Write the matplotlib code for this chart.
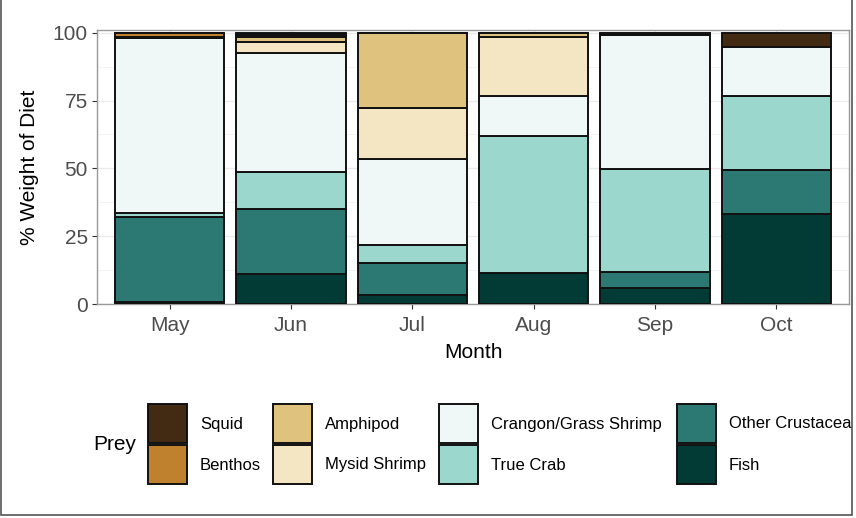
import matplotlib
matplotlib.use("Agg")
import matplotlib.pyplot as plt
from matplotlib.patches import Rectangle
import numpy as np

plt.rcParams["font.family"] = ["Liberation Sans", "DejaVu Sans"]

months = ["May", "Jun", "Jul", "Aug", "Sep", "Oct"]

# stacking order, bottom -> top
prey = ["Fish", "Other Crustacea", "True Crab", "Crangon/Grass Shrimp",
        "Mysid Shrimp", "Amphipod", "Benthos", "Squid"]
colors = {"Squid": "#432a12", "Benthos": "#c0812e", "Amphipod": "#dfc27d",
          "Mysid Shrimp": "#f5e6c3", "Crangon/Grass Shrimp": "#f0f8f7",
          "True Crab": "#9bd7cc", "Other Crustacea": "#2c7873", "Fish": "#023a36"}

fish        = [0.7, 11.0, 3.3, 11.6, 5.8, 33.2]
other_crust = [31.5, 24.0, 11.7, 0.0, 6.1, 16.2]
true_crab   = [1.5, 13.6, 6.8, 50.4, 37.8, 27.4]
crangon     = [64.5, 44.0, 31.6, 14.5, 49.6, 17.8]
mysid       = [0.0, 4.0, 18.8, 21.8, 0.0, 0.0]
amphipod    = [0.3, 2.0, 27.8, 1.7, 0.0, 0.0]
benthos     = [1.5, 0.4, 0.0, 0.0, 0.0, 0.0]
squid       = [0.0, 1.0, 0.0, 0.0, 0.7, 5.4]

values = {"Fish": fish, "Other Crustacea": other_crust, "True Crab": true_crab,
          "Crangon/Grass Shrimp": crangon, "Mysid Shrimp": mysid,
          "Amphipod": amphipod, "Benthos": benthos, "Squid": squid}

W, H = 856, 518
fig = plt.figure(figsize=(W / 100, H / 100), dpi=100)
ax = fig.add_axes([97 / W, 1 - 304 / H, (849 - 97) / W, (304 - 30) / H])

x = np.arange(len(months))
bottom = np.zeros(len(months))
for p in prey:
    v = np.array(values[p])
    ax.bar(x, v, width=0.9, bottom=bottom, color=colors[p], edgecolor="#111111",
           linewidth=1.4, zorder=3)
    bottom += v

ax.set_xlim(-0.6, 5.6)
ax.set_ylim(0, 101)
ax.set_xticks(x)
ax.set_xticklabels(months)
ax.set_yticks([0, 25, 50, 75, 100])
ax.set_yticks([12.5, 37.5, 62.5, 87.5], minor=True)
ax.grid(True, which="major", color="#ebebeb", linewidth=1.0, zorder=0)
ax.grid(True, which="minor", axis="y", color="#f2f2f2", linewidth=0.6, zorder=0)
ax.tick_params(axis="both", which="major", labelsize=15, labelcolor="#4d4d4d",
               color="#333333", length=3.5, width=0.8, pad=3)
ax.tick_params(axis="x", which="major", pad=5)
ax.tick_params(axis="y", which="minor", length=0)
for s in ax.spines.values():
    s.set_color("#999999")
    s.set_linewidth(1.0)
ax.set_xlabel("Month", fontsize=15, labelpad=6)
ax.set_ylabel("% Weight of Diet", fontsize=15, labelpad=10)

# legend drawn in pixel coordinates on an overlay axes
lax = fig.add_axes([0, 0, 1, 1])
lax.set_xlim(0, W)
lax.set_ylim(H, 0)
lax.axis("off")
lax.text(93, 445, "Prey", fontsize=15, va="center", ha="left")
legend_order = ["Squid", "Benthos", "Amphipod", "Mysid Shrimp",
                "Crangon/Grass Shrimp", "True Crab", "Other Crustacea", "Fish"]
col_x = [148, 273, 439, 677]
row_y = [404, 445]
for i, p in enumerate(legend_order):
    cx = col_x[i // 2]
    ry = row_y[i % 2]
    lax.add_patch(Rectangle((cx, ry), 39, 39, facecolor=colors[p],
                            edgecolor="#111111", linewidth=1.4))
    lax.text(cx + 52, ry + 20, p, fontsize=12, va="center", ha="left")

# outer frame of the screenshot
lax.add_patch(Rectangle((1.5, -2), W - 5, H - 1.5, fill=False,
                        edgecolor="#555555", linewidth=1.2))

fig.savefig("out.png", dpi=100)
